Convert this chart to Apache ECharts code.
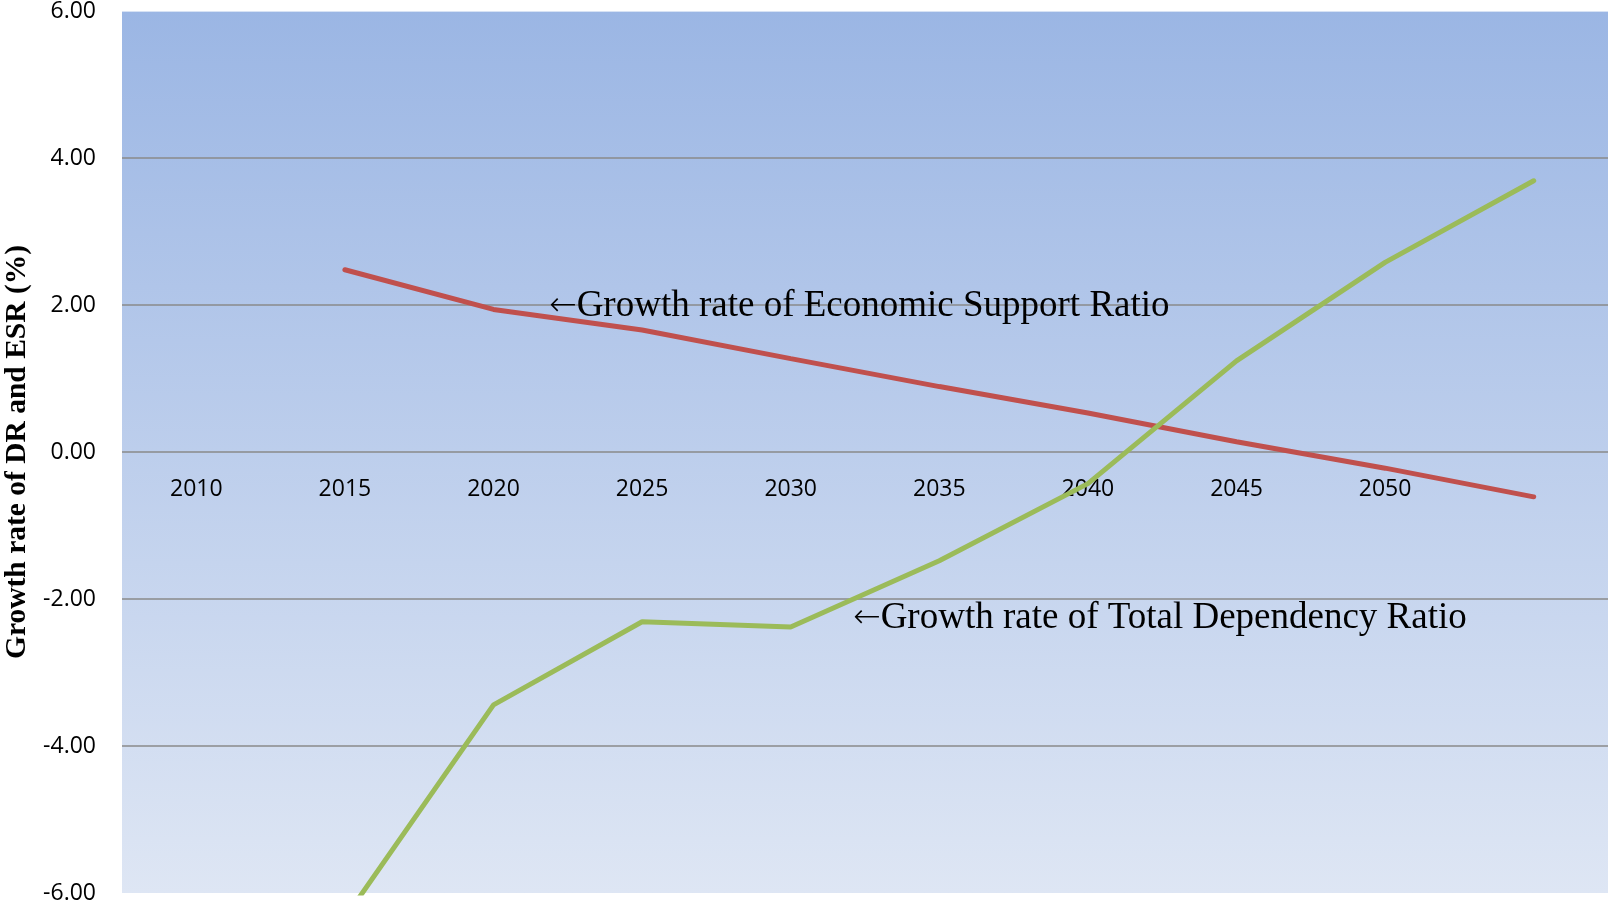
<!DOCTYPE html>
<html>
<head>
<meta charset="utf-8">
<title>Growth rate of DR and ESR</title>
<script src="https://cdn.jsdelivr.net/npm/echarts@6/dist/echarts.min.js"></script>
<style>
html,body{margin:0;padding:0;background:#fff;}
#main{width:1608px;height:907px;}
</style>
</head>
<body>
<div id="main"></div>
<script>
// years on the x axis, last one has no label in the original
var years = ['2010','2015','2020','2025','2030','2035','2040','2045','2050','2055'];
var yearLabels = ['2010','2015','2020','2025','2030','2035','2040','2045','2050',''];
// growth rate of economic support ratio (%)
var esr = [null, 2.48, 1.94, 1.66, 1.27, 0.89, 0.53, 0.14, -0.22, -0.61];
// growth rate of total dependency ratio (%)
var tdr = [null, -6.34, -3.44, -2.31, -2.38, -1.48, -0.43, 1.24, 2.58, 3.69];

var myChart = echarts.init(document.getElementById('main'));
var option = {
    backgroundColor: '#ffffff',
    animation: false,
    grid: {
        left: 122,
        right: 0,
        top: 11,
        bottom: 14,
        outerBoundsMode: 'none',
        containLabel: false,
        show: true,
        borderWidth: 0,
        backgroundColor: new echarts.graphic.LinearGradient(0, 0, 0, 1, [
            {offset: 0, color: '#9bb6e4'},
            {offset: 1, color: '#dee6f4'}
        ])
    },
    xAxis: {
        type: 'category',
        data: years,
        boundaryGap: true,
        position: 'bottom',
        // labels sit just under the 0.00 line like in the original
        offset: -441,
        axisLine: {show: false, onZero: false},
        axisTick: {show: false},
        axisLabel: {
            margin: 26,
            color: '#000',
            fontFamily: 'Open Sans',
            fontSize: 23,
            interval: 0,
            formatter: function (v, i) { return yearLabels[i]; }
        },
        splitLine: {show: false}
    },
    yAxis: {
        type: 'value',
        min: -6,
        max: 6,
        interval: 2,
        name: 'Growth rate of DR and ESR (%)',
        nameLocation: 'middle',
        nameGap: 88,
        nameTextStyle: {
            fontFamily: 'Liberation Serif',
            fontWeight: 'bold',
            fontSize: 29.5,
            color: '#000'
        },
        axisLine: {show: false},
        axisTick: {show: false},
        axisLabel: {
            margin: 26,
            color: '#000',
            fontFamily: 'Open Sans',
            fontSize: 23,
            formatter: function (v) { return v.toFixed(2); }
        },
        splitLine: {
            show: true,
            lineStyle: {
                width: 1.5,
                color: ['rgba(0,0,0,0)', '#8a8a8a', '#8a8a8a', '#8a8a8a', '#8a8a8a', '#8a8a8a', 'rgba(255,255,255,0.8)']
            }
        }
    },
    series: [
        {
            name: 'Growth rate of Economic Support Ratio',
            type: 'line',
            data: esr,
            showSymbol: false,
            symbol: 'none',
            lineStyle: {color: '#c0504d', width: 5, cap: 'round'},
            z: 3
        },
        {
            name: 'Growth rate of Total Dependency Ratio',
            type: 'line',
            data: tdr,
            showSymbol: false,
            symbol: 'none',
            lineStyle: {color: '#9bbb59', width: 5, cap: 'round'},
            z: 3
        }
    ],
    graphic: [
        {
            type: 'text',
            left: 549,
            top: 288,
            z: 10,
            style: {
                text: '{a|\u2190}Growth rate of Economic Support Ratio',
                fontFamily: 'Liberation Serif',
                fontSize: 37,
                fill: '#000',
                rich: {a: {fontFamily: 'DejaVu Sans', fontSize: 33, fontWeight: 200}}
            }
        },
        {
            type: 'text',
            left: 853,
            top: 600,
            z: 10,
            style: {
                text: '{a|\u2190}Growth rate of Total Dependency Ratio',
                fontFamily: 'Liberation Serif',
                fontSize: 37,
                fill: '#000',
                rich: {a: {fontFamily: 'DejaVu Sans', fontSize: 33, fontWeight: 200}}
            }
        }
    ]
};
myChart.setOption(option);
</script>
</body>
</html>
